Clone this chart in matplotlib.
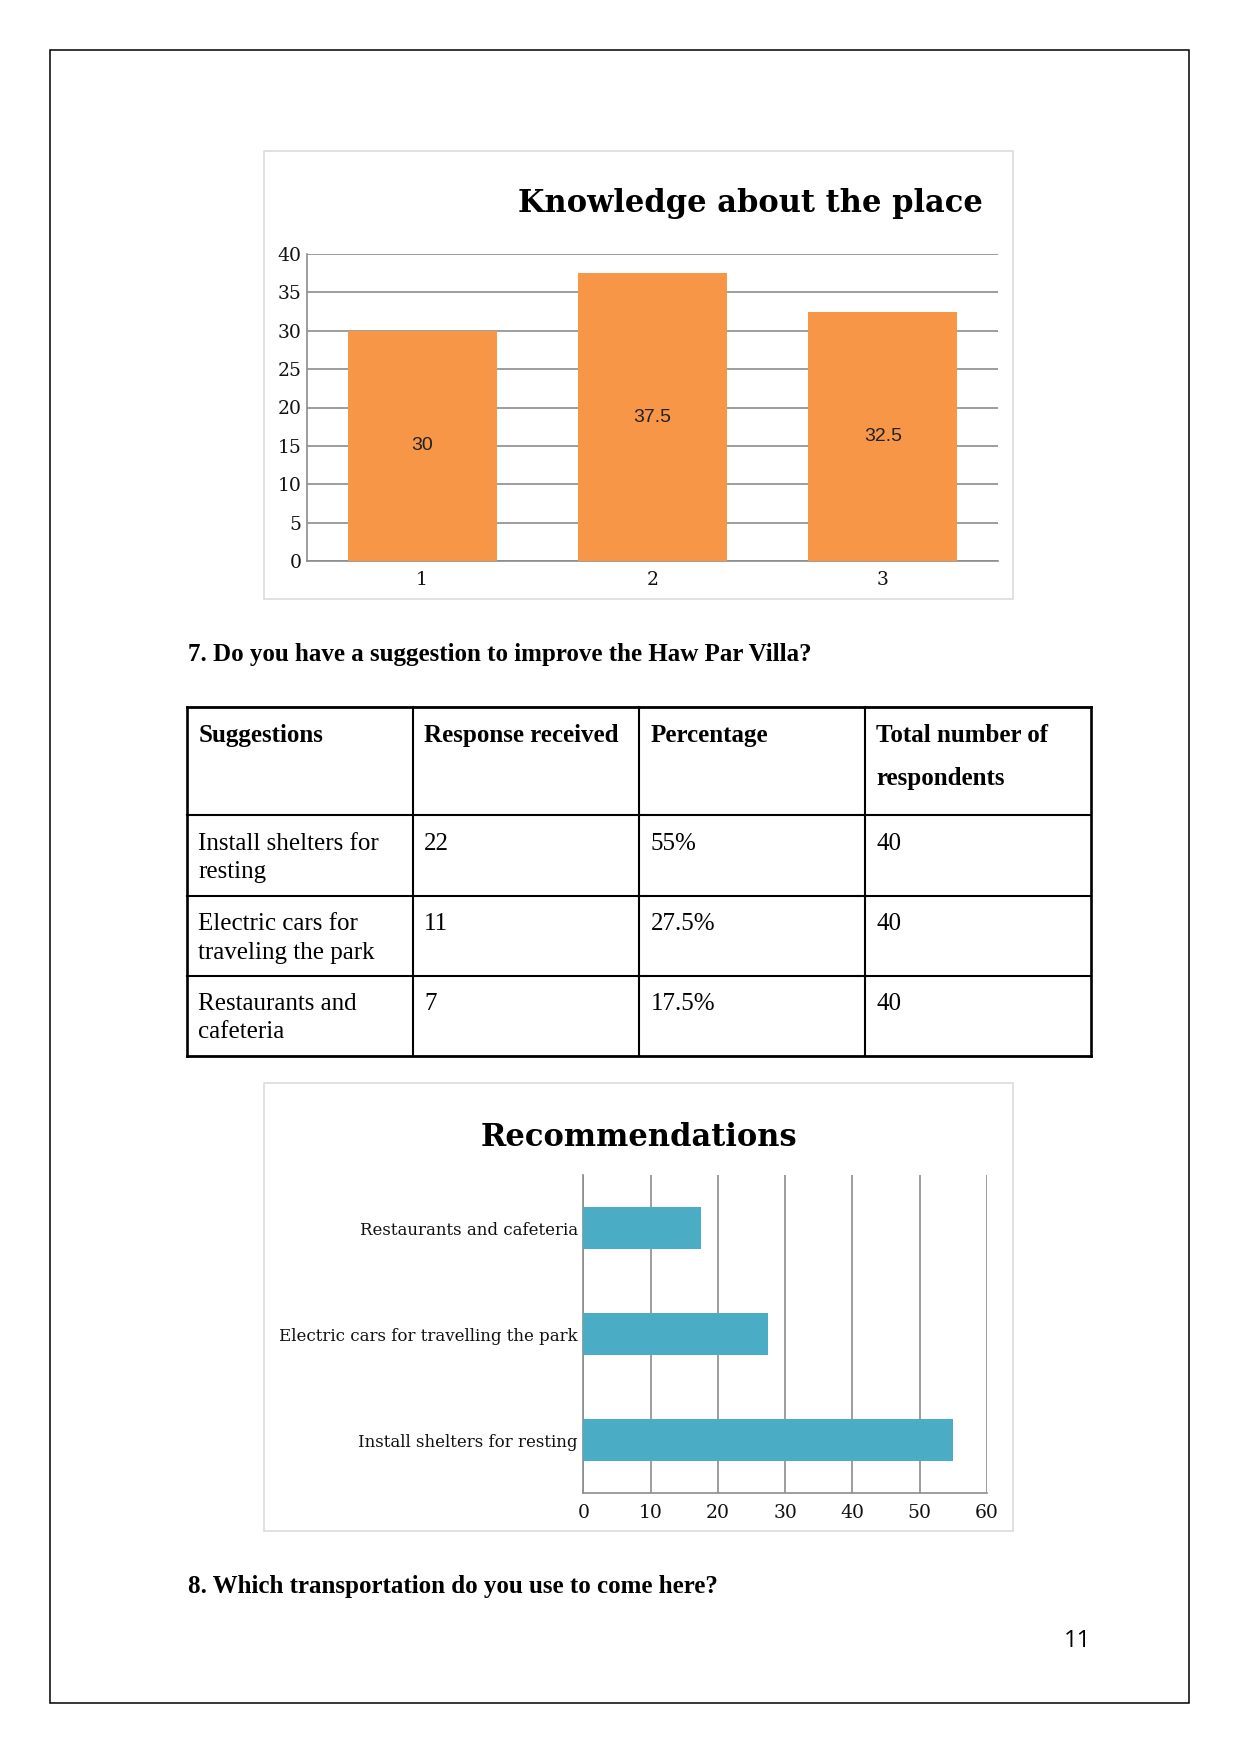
import matplotlib
matplotlib.use("Agg")
import matplotlib.pyplot as plt
from matplotlib.patches import Rectangle

# page in pixels (A4 at 150 dpi)
W, H = 1241, 1754

# chart 1 data
knowledge_cats = ["1", "2", "3"]
knowledge_vals = [30, 37.5, 32.5]

# chart 2 data (bottom to top)
rec_cats = ["Install shelters for resting", "Electric cars for travelling the park",
            "Restaurants and cafeteria"]
rec_vals = [55, 27.5, 17.5]

# table data
table_header = [["Suggestions"], ["Response received"], ["Percentage"],
                ["Total number of", "respondents"]]
suggestions = [["Install shelters for", "resting"],
               ["Electric cars for", "traveling the park"],
               ["Restaurants and", "cafeteria"]]
responses = ["22", "11", "7"]
percentages = ["55%", "27.5%", "17.5%"]
totals = ["40", "40", "40"]

ORANGE = "#F79646"
BLUE = "#4BACC6"
GRID = "#8c8c8c"
FRAME = "#d9d9d9"
SERIF = "DejaVu Serif"
BODY = "Liberation Serif"


def rect(x0, y0, x1, y1):
    # pixel box (top-left origin) -> figure fraction
    return [x0 / W, 1 - y1 / H, (x1 - x0) / W, (y1 - y0) / H]


fig = plt.figure(figsize=(W / 100, H / 100), dpi=100)
fig.patch.set_facecolor("white")

# page overlay in pixel coordinates
pg = fig.add_axes([0, 0, 1, 1], zorder=0)
pg.set_xlim(0, W)
pg.set_ylim(H, 0)
pg.axis("off")

pg.add_patch(Rectangle((50, 50), 1139, 1653, fill=False, ec="black", lw=1.1))

# chart frames
pg.add_patch(Rectangle((264, 150.5), 748.5, 448.5, fill=False, ec=FRAME, lw=1.1))
pg.add_patch(Rectangle((264, 1082.5), 748.5, 448.5, fill=False, ec=FRAME, lw=1.1))

# titles
pg.text(750, 212, "Knowledge about the place", fontsize=22, fontweight="bold",
        family=SERIF, ha="center", va="baseline")
pg.text(638.5, 1146.5, "Recommendations", fontsize=22, fontweight="bold",
        family=SERIF, ha="center", va="baseline")

# questions
pg.text(187.5, 661, "7. Do you have a suggestion to improve the Haw Par Villa?",
        fontsize=18, fontweight="bold", family=BODY, va="baseline")
pg.text(187.5, 1593.5, "8. Which transportation do you use to come here?",
        fontsize=18, fontweight="bold", family=BODY, va="baseline")

# page number
pg.text(1077, 1647, "11", fontsize=17, family="Open Sans",
        ha="center", va="baseline")

# ---- table ----
col_x = [186.7, 412.7, 639, 865, 1091]
row_y = [706.7, 815, 896, 975.7, 1056]
for i, x in enumerate(col_x):
    lw = 1.9 if i in (0, len(col_x) - 1) else 1.5
    pg.plot([x, x], [row_y[0], row_y[-1]], color="black", lw=lw, solid_capstyle="projecting")
for j, y in enumerate(row_y):
    lw = 2.0 if j in (0, len(row_y) - 1) else 1.5
    pg.plot([col_x[0], col_x[-1]], [y, y], color="black", lw=lw, solid_capstyle="projecting")

pad = 11.5
for c, lines in enumerate(table_header):
    for k, line in enumerate(lines):
        pg.text(col_x[c] + pad, 741.7 + k * 43.5, line, fontsize=18, fontweight="bold",
                family=BODY, va="baseline")

body_cols = [suggestions, responses, percentages, totals]
for r in range(3):
    base = row_y[r + 1] + 34.5
    for c, col in enumerate(body_cols):
        val = col[r]
        lines = val if isinstance(val, list) else [val]
        for k, line in enumerate(lines):
            pg.text(col_x[c] + pad, base + k * 28.3, line, fontsize=18,
                    family=BODY, va="baseline")

# ---- chart 1: vertical bars ----
ax1 = fig.add_axes(rect(307, 254, 998, 561), zorder=2)
ax1.set_facecolor("none")
xpos = range(1, len(knowledge_vals) + 1)
ax1.bar(xpos, knowledge_vals, width=0.646, color=ORANGE, zorder=3)
for x, v in zip(xpos, knowledge_vals):
    ax1.text(x, v / 2, f"{v:g}", ha="center", va="center", fontsize=14,
             family="Liberation Sans", color="#222222", zorder=4)
ax1.set_xlim(0.5, 3.5)
ax1.set_ylim(0, 40)
ax1.set_yticks(range(0, 41, 5))
ax1.set_xticks(list(xpos))
ax1.set_xticklabels(knowledge_cats)
ax1.yaxis.grid(True, color=GRID, lw=1.2)
ax1.set_axisbelow(True)
for s in ("top", "right"):
    ax1.spines[s].set_visible(False)
for s in ("left", "bottom"):
    ax1.spines[s].set_color(GRID)
    ax1.spines[s].set_linewidth(1.2)
ax1.tick_params(axis="both", length=0, labelsize=13.5, colors="#111111")
ax1.tick_params(axis="y", pad=4)
ax1.tick_params(axis="x", pad=7.5)
for lab in ax1.get_xticklabels() + ax1.get_yticklabels():
    lab.set_family(SERIF)

# ---- chart 2: horizontal bars ----
ax2 = fig.add_axes(rect(583.3, 1175, 987, 1493.3), zorder=2)
ax2.set_facecolor("none")
ypos = range(len(rec_vals))
ax2.barh(list(ypos), rec_vals, height=0.393, color=BLUE, zorder=3)
ax2.set_xlim(0, 60)
ax2.set_ylim(-0.5, 2.5)
ax2.set_xticks(range(0, 61, 10))
ax2.set_yticks(list(ypos))
ax2.set_yticklabels(rec_cats)
ax2.xaxis.grid(True, color=GRID, lw=1.2)
ax2.set_axisbelow(True)
for s in ("top", "right"):
    ax2.spines[s].set_visible(False)
for s in ("left", "bottom"):
    ax2.spines[s].set_color(GRID)
    ax2.spines[s].set_linewidth(1.2)
ax2.tick_params(axis="both", length=0, labelsize=13.5, colors="#111111")
ax2.tick_params(axis="y", pad=4)
ax2.tick_params(axis="x", pad=7.5)
for lab in ax2.get_xticklabels() + ax2.get_yticklabels():
    lab.set_family(SERIF)
for lab in ax2.get_yticklabels():
    lab.set_fontsize(12)

fig.savefig("out.png", dpi=100, facecolor="white")
